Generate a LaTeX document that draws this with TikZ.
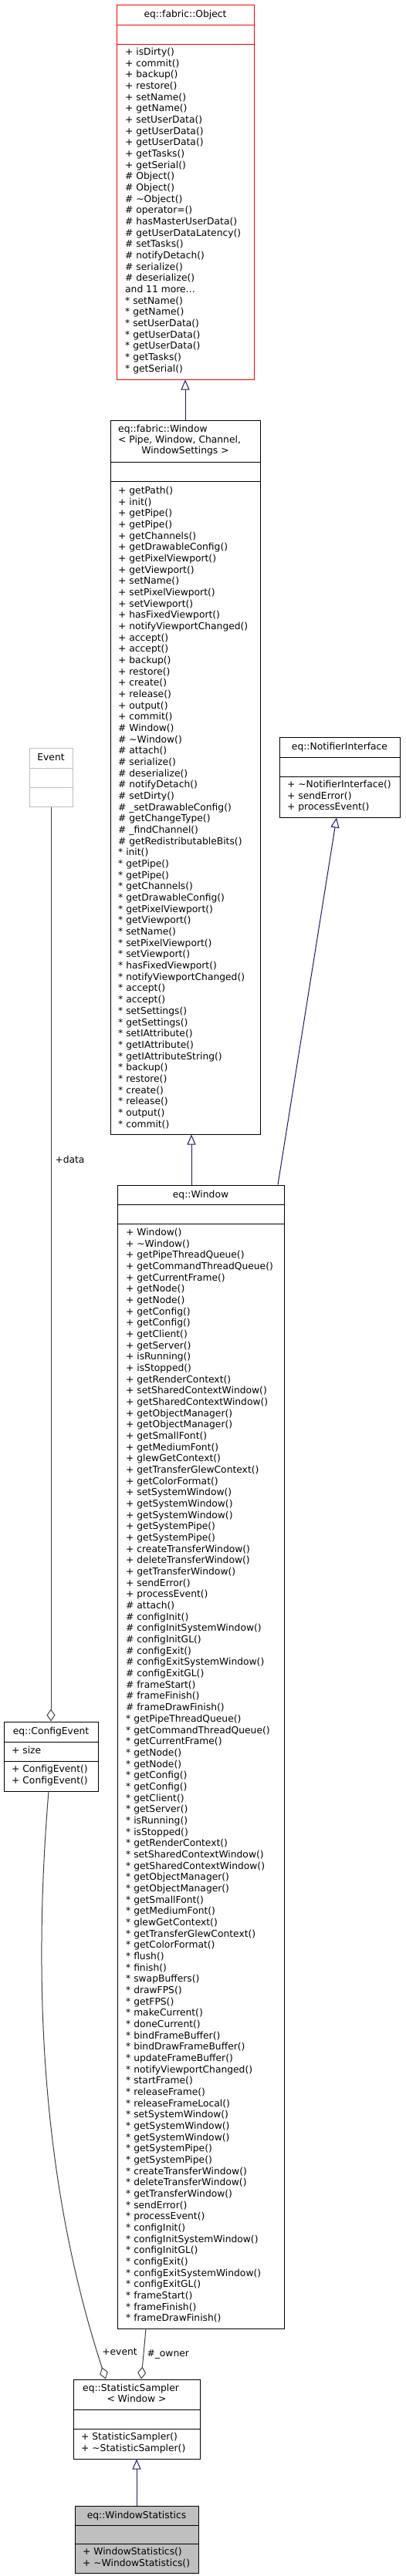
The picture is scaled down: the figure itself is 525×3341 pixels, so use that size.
\documentclass[tikz,border=0pt]{standalone}
\usepackage{fontspec}
\setmainfont{DejaVu Sans}
\usepackage{xcolor}
\usetikzlibrary{arrows.meta}

\definecolor{rojo}{HTML}{FF0000}
\definecolor{azul}{HTML}{191970}
\definecolor{gris}{HTML}{404040}
\definecolor{grisclaro}{HTML}{BFBFBF}

\newcommand{\letra}{\fontsize{12.3}{14.67}\selectfont}
% x, primera linea base, lista
\newcommand{\miembros}[3]{%
  \foreach \m [count=\i from 0] in {#3}
    \node[miembro] at (#1, #2+\i*14.67) {\m};}
\newcommand{\separa}[2]{\draw (#1.west |- 0,#2) -- (#1.east |- 0,#2);}

\begin{document}
\begin{tikzpicture}[x=1pt, y=-1pt,
  clase/.style={draw, inner sep=0pt, line width=1pt},
  titulo/.style={anchor=base, inner sep=0pt, font=\letra},
  miembro/.style={anchor=base west, inner sep=0pt, font=\letra},
  etiqueta/.style={inner sep=0pt, font=\letra},
  herencia/.style={draw=azul, line width=1pt, -{Triangle[open, length=13pt, width=11pt]}},
  agregacion/.style={draw=gris, line width=1pt, -{Diamond[open, length=16pt, width=11pt]}}]
\useasboundingbox (0,0) rectangle (525,3341);

% Clases
\node[clase, draw=rojo, minimum width=178, minimum height=486] (obj) at (240,249) {};
\begin{scope}[rojo, line width=1pt]
\separa{obj}{32} \separa{obj}{57}
\end{scope}
\node[titulo] at (240,22.5) {eq::fabric::Object};
\miembros{162}{71.5}{+ isDirty(), + commit(), + backup(), + restore(), + setName(), + getName(),
  + setUserData(), + getUserData(), + getUserData(), + getTasks(), + getSerial(),
  \# Object(), \# Object(), \# \textasciitilde Object(), \# operator=(), \# hasMasterUserData(),
  \# getUserDataLatency(), \# setTasks(), \# notifyDetach(), \# serialize(), \# deserialize(),
  and 11 more\ldots, * setName(), * getName(), * setUserData(), * getUserData(),
  * getUserData(), * getTasks(), * getSerial()}

\node[clase, minimum width=194, minimum height=926] (tmpl) at (240,1008) {};
\begin{scope}[line width=1pt]
\separa{tmpl}{599} \separa{tmpl}{624}
\end{scope}
\node[miembro] at (153,560.5) {eq::fabric::Window};
\node[miembro] at (153,574.5) {< Pipe, Window, Channel,};
\node[titulo] at (240,588.5) {WindowSettings >};
\miembros{153}{640.5}{+ getPath(), + init(), + getPipe(), + getPipe(), + getChannels(),
  + getDrawableConfig(), + getPixelViewport(), + getViewport(), + setName(),
  + setPixelViewport(), + setViewport(), + hasFixedViewport(), + notifyViewportChanged(),
  + accept(), + accept(), + backup(), + restore(), + create(), + release(), + output(),
  + commit(), \# Window(), \# \textasciitilde Window(), \# attach(), \# serialize(),
  \# deserialize(), \# notifyDetach(), \# setDirty(), \# \_setDrawableConfig(),
  \# getChangeType(), \# \_findChannel(), \# getRedistributableBits(), * init(),
  * getPipe(), * getPipe(), * getChannels(), * getDrawableConfig(), * getPixelViewport(),
  * getViewport(), * setName(), * setPixelViewport(), * setViewport(), * hasFixedViewport(),
  * notifyViewportChanged(), * accept(), * accept(), * setSettings(), * getSettings(),
  * setIAttribute(), * getIAttribute(), * getIAttributeString(), * backup(), * restore(),
  * create(), * release(), * output(), * commit()}

\node[clase, draw=grisclaro, minimum width=56, minimum height=76] (event) at (66,1008) {};
\begin{scope}[grisclaro, line width=1pt]
\separa{event}{996} \separa{event}{1021}
\end{scope}
\node[titulo] at (66,986.5) {Event};

\node[clase, minimum width=156, minimum height=104] (notif) at (440,1008) {};
\begin{scope}[line width=1pt]
\separa{notif}{982} \separa{notif}{1007}
\end{scope}
\node[titulo] at (440,972.5) {eq::NotifierInterface};
\miembros{372}{1021.5}{+ \textasciitilde NotifierInterface(), + sendError(), + processEvent()}

\node[clase, minimum width=216, minimum height=1483] (win) at (260,2278.5) {};
\begin{scope}[line width=1pt]
\separa{win}{1562} \separa{win}{1587}
\end{scope}
\node[titulo] at (260,1553) {eq::Window};
\miembros{163}{1602.5}{+ Window(), + \textasciitilde Window(), + getPipeThreadQueue(),
  + getCommandThreadQueue(), + getCurrentFrame(), + getNode(), + getNode(), + getConfig(),
  + getConfig(), + getClient(), + getServer(), + isRunning(), + isStopped(),
  + getRenderContext(), + setSharedContextWindow(), + getSharedContextWindow(),
  + getObjectManager(), + getObjectManager(), + getSmallFont(), + getMediumFont(),
  + glewGetContext(), + getTransferGlewContext(), + getColorFormat(), + setSystemWindow(),
  + getSystemWindow(), + getSystemWindow(), + getSystemPipe(), + getSystemPipe(),
  + createTransferWindow(), + deleteTransferWindow(), + getTransferWindow(), + sendError(),
  + processEvent(), \# attach(), \# configInit(), \# configInitSystemWindow(),
  \# configInitGL(), \# configExit(), \# configExitSystemWindow(), \# configExitGL(),
  \# frameStart(), \# frameFinish(), \# frameDrawFinish(), * getPipeThreadQueue(),
  * getCommandThreadQueue(), * getCurrentFrame(), * getNode(), * getNode(), * getConfig(),
  * getConfig(), * getClient(), * getServer(), * isRunning(), * isStopped(),
  * getRenderContext(), * setSharedContextWindow(), * getSharedContextWindow(),
  * getObjectManager(), * getObjectManager(), * getSmallFont(), * getMediumFont(),
  * glewGetContext(), * getTransferGlewContext(), * getColorFormat(), * flush(), * finish(),
  * swapBuffers(), * drawFPS(), * getFPS(), * makeCurrent(), * doneCurrent(),
  * bindFrameBuffer(), * bindDrawFrameBuffer(), * updateFrameBuffer(),
  * notifyViewportChanged(), * startFrame(), * releaseFrame(), * releaseFrameLocal(),
  * setSystemWindow(), * getSystemWindow(), * getSystemWindow(), * getSystemPipe(),
  * getSystemPipe(), * createTransferWindow(), * deleteTransferWindow(),
  * getTransferWindow(), * sendError(), * processEvent(), * configInit(),
  * configInitSystemWindow(), * configInitGL(), * configExit(), * configExitSystemWindow(),
  * configExitGL(), * frameStart(), * frameFinish(), * frameDrawFinish()}

\node[clase, minimum width=122, minimum height=90] (cfg) at (66,2278) {};
\begin{scope}[line width=1pt]
\separa{cfg}{2259} \separa{cfg}{2284}
\end{scope}
\node[titulo] at (66,2249.5) {eq::ConfigEvent};
\miembros{15}{2274.5}{+ size}
\miembros{15}{2298.5}{+ ConfigEvent(), + ConfigEvent()}

\node[clase, minimum width=164, minimum height=103] (samp) at (177,3137.5) {};
\begin{scope}[line width=1pt]
\separa{samp}{3125} \separa{samp}{3150}
\end{scope}
\node[miembro] at (107,3101.5) {eq::StatisticSampler};
\node[titulo] at (177,3115.5) {< Window >};
\miembros{105}{3164.5}{+ StatisticSampler(), + \textasciitilde StatisticSampler()}

\node[clase, fill=grisclaro, minimum width=160, minimum height=87] (ws) at (177,3293.5) {};
\begin{scope}[line width=1pt]
\separa{ws}{3275} \separa{ws}{3299}
\end{scope}
\node[titulo] at (177,3266) {eq::WindowStatistics};
\miembros{107}{3313.5}{+ WindowStatistics(), + \textasciitilde WindowStatistics()}

% Herencia
\draw[herencia] (tmpl) -- (obj);
\draw[herencia] ([xshift=-12pt]win.north) -- ([xshift=8pt]tmpl.south);
\draw[herencia] ([xshift=100pt]win.north) -- ([xshift=-4pt]notif.south);
\draw[herencia] (ws) -- (samp);

% Agregacion
\draw[agregacion] (event) -- (cfg) node[etiqueta, pos=.386, anchor=west, xshift=5pt] {+data};
\draw[agregacion] ([xshift=-71pt]win.south) -- ([xshift=6pt]samp.north)
  node[etiqueta, pos=.5, anchor=west, xshift=4pt] {\#\_owner};
\draw[agregacion] ([xshift=-3pt]cfg.south) .. controls (40,2600) and (60,2850) .. ([xshift=-40pt]samp.north)
  node[etiqueta, pos=.95, anchor=west, xshift=6pt] {+event};
\end{tikzpicture}
\end{document}
